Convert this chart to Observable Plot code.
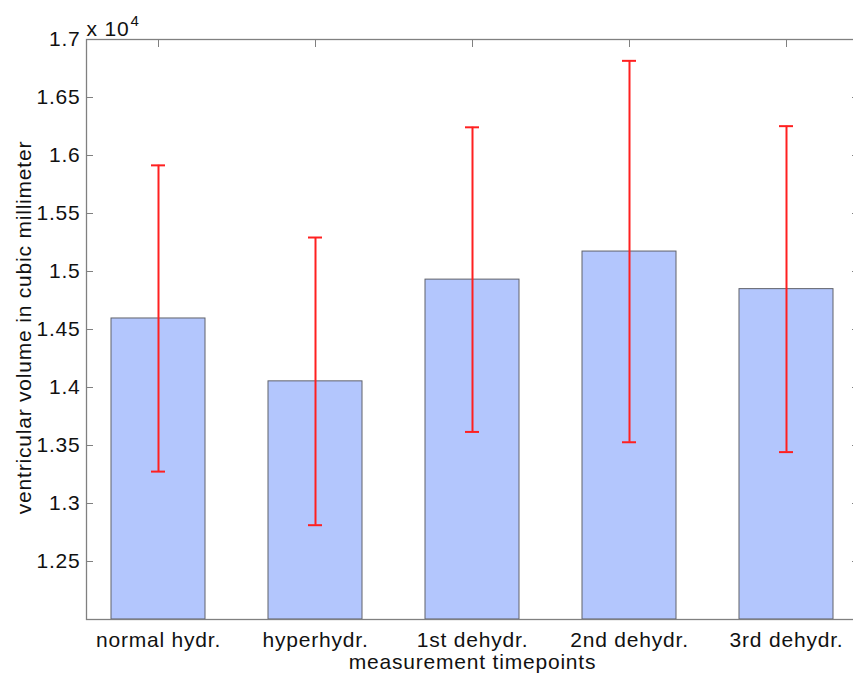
<!DOCTYPE html>
<html><head><meta charset="utf-8">
<script src="https://cdn.jsdelivr.net/npm/d3@7"></script>
<script src="https://cdn.jsdelivr.net/npm/@observablehq/plot@0.6"></script>
<style>body{margin:0;background:#fff}</style>
</head><body><div id="chart"></div>
<script>
const categories = ["normal hydr.", "hyperhydr.", "1st dehydr.", "2nd dehydr.", "3rd dehydr."];
const means = [14595, 14053, 14930, 15172, 14848];
const errors = [1320, 1240, 1313, 1644, 1405];
const yTicks = [12500, 13000, 13500, 14000, 14500, 15000, 15500, 16000, 16500, 17000];
const yDomain = [12000, 17000];
const yLabel = "ventricular volume in cubic millimeter";
const xLabel = "measurement timepoints";
const exponentBase = "x 10";
const exponent = "4";

const data = categories.map((c, i) => ({category: c, mean: means[i], err: errors[i]}));
const axisColor = "#808080";
const red = "#ff2020";
const none = () => "";

const chart = Plot.plot({
  width: 853, height: 676,
  marginTop: 39, marginBottom: 57, marginLeft: 86, marginRight: -5,
  style: {fontFamily: "'Liberation Sans', Arial, Helvetica, sans-serif", fontSize: "21px", letterSpacing: "0.8px", background: "#fff", color: "#111"},
  x: {domain: categories, paddingInner: 0.4, paddingOuter: 0.153, align: 0.5, label: null},
  y: {domain: yDomain, label: null},
  marks: [
    Plot.barY(data, {x: "category", y1: yDomain[0], y2: "mean", fill: "#b3c6fd", stroke: "#60626a", strokeWidth: 1}),
    Plot.ruleX(data, {x: "category", y1: d => d.mean - d.err, y2: d => d.mean + d.err, stroke: red, strokeWidth: 2}),
    Plot.tickY(data, {x: "category", y: d => d.mean + d.err, stroke: red, strokeWidth: 2, inset: 40}),
    Plot.tickY(data, {x: "category", y: d => d.mean - d.err, stroke: red, strokeWidth: 2, inset: 40}),
    Plot.frame({stroke: axisColor, strokeWidth: 1.3}),
    Plot.axisY({ticks: yTicks, anchor: "left", tickSize: 0, tickPadding: 6, tickFormat: d => String(+(d / 1e4).toFixed(3)), label: null}),
    Plot.axisY({ticks: yTicks, anchor: "left", tickSize: -7, tickFormat: none, label: null, stroke: axisColor}),
    Plot.axisY({ticks: yTicks, anchor: "right", tickSize: -7, tickFormat: none, label: null, stroke: axisColor}),
    Plot.axisX({anchor: "top", tickSize: -7, tickFormat: none, label: null, stroke: axisColor}),
    Plot.axisX({anchor: "bottom", tickSize: 0, tickPadding: 13, label: null}),
    Plot.text([xLabel], {frameAnchor: "bottom", lineAnchor: "middle", dy: 42.5, textAnchor: "middle"}),
    Plot.text([yLabel], {frameAnchor: "left", lineAnchor: "middle", rotate: -90, dx: -62.7, dy: -2, textAnchor: "middle"}),
    Plot.text([exponentBase], {frameAnchor: "top-left", lineAnchor: "middle", textAnchor: "start", dy: -10.7}),
    Plot.text([exponent], {frameAnchor: "top-left", lineAnchor: "middle", textAnchor: "start", dx: 44, dy: -18.5, fontSize: 15})
  ]
});
document.getElementById("chart").appendChild(chart);
</script>
</body></html>
